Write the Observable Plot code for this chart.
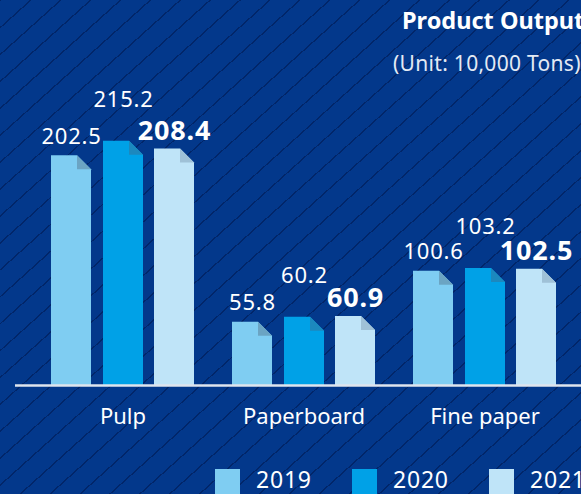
<!DOCTYPE html>
<html>
<head>
<meta charset="utf-8">
<script src="https://cdn.jsdelivr.net/npm/d3@7"></script>
<script src="https://cdn.jsdelivr.net/npm/@observablehq/plot@0.6"></script>
<style>
  html, body { margin: 0; padding: 0; }
  body {
    width: 581px; height: 494px; overflow: hidden;
    background: repeating-linear-gradient(138deg, rgba(0, 20, 72, 0.5) 0 1.3px, transparent 1.3px 20px), #03388b;
    font-family: "Noto Sans", sans-serif; color: #fff;
  }
  #wrap { position: relative; width: 581px; height: 494px; overflow: hidden; }
  #header { position: relative; height: 90px; }
  .title { position: absolute; left: 402px; top: 9px; font-size: 23.5px; font-weight: bold; line-height: 1; white-space: nowrap; }
  .unit { position: absolute; left: 393px; top: 53px; font-size: 21px; letter-spacing: 0.3px; line-height: 1; white-space: nowrap; color: #e4eaf4; }
  #chart svg { display: block; overflow: visible; }
  #chart g[aria-label="text"] text { letter-spacing: 0.8px; }
  #legend { position: absolute; left: 215px; top: 468px; display: flex; }
  .item { width: 137px; display: flex; align-items: flex-start; }
  .sw { width: 25px; height: 26px; margin-top: 1px; margin-right: 16px; }
  .lab { font-size: 23px; line-height: 1; letter-spacing: 0.8px; }
</style>
</head>
<body>
<div id="wrap">
  <div id="header">
    <div class="title">Product Output</div>
    <div class="unit">(Unit: 10,000 Tons)</div>
  </div>
  <div id="chart"></div>
  <div id="legend"></div>
</div>
<script>
// ---- data ----
const categories = ["Pulp", "Paperboard", "Fine paper"];
const years = ["2019", "2020", "2021"];
const values2019 = [202.5, 55.8, 100.6];
const values2020 = [215.2, 60.2, 103.2];
const values2021 = [208.4, 60.9, 102.5];

// ---- styles ----
const barColors = ["#7fcdf2", "#00a1e7", "#bfe4f8"];
const foldColors = ["#6ba4c3", "#1c88be", "#9fc1d7"];
const insets = [[19, 122], [71, 70], [122, 19]];
const labelDx = [-51.5, 0.5, 51.5];
const labelDy = [-12, -34, -9];
const labelSize = [22, 22, 27];
const labelWeight = ["normal", "normal", "bold"];

const seriesValues = [values2019, values2020, values2021];
const rows = years.flatMap((yr, i) =>
  categories.map((c, j) => ({ category: c, year: yr, value: seriesValues[i][j] }))
);

const marks = [];
years.forEach((yr, i) => {
  marks.push(Plot.barY(rows.filter(d => d.year === yr), {
    x: "category", y: "value", fill: barColors[i],
    insetLeft: insets[i][0], insetRight: insets[i][1]
  }));
});
marks.push(Plot.ruleY([0], { stroke: "#dfe5ee", strokeWidth: 2.5, insetLeft: -16, insetRight: -8 }));
years.forEach((yr, i) => {
  marks.push(Plot.text(rows.filter(d => d.year === yr), {
    x: "category", y: "value", text: d => d.value.toFixed(1),
    dx: labelDx[i], dy: labelDy[i], lineAnchor: "bottom", textAnchor: "middle",
    fill: "#ffffff", fontSize: labelSize[i], fontWeight: labelWeight[i]
  }));
});

const svg = Plot.plot({
  width: 581,
  height: 345,
  marginLeft: 31,
  marginRight: 6,
  marginTop: 0,
  marginBottom: 50,
  x: { domain: categories, padding: 0, label: null, tickSize: 0, tickPadding: 23 },
  y: { domain: [0, 260], axis: null },
  style: { background: "transparent", color: "#ffffff", fontSize: "22px", fontFamily: "Noto Sans, sans-serif" },
  marks
});

// folded top-right corner on each bar
const ns = "http://www.w3.org/2000/svg";
svg.querySelectorAll('g[aria-label="bar"]').forEach((g, gi) => {
  g.querySelectorAll("rect").forEach(r => {
    const x = +r.getAttribute("x"), y = +r.getAttribute("y");
    const w = +r.getAttribute("width"), h = +r.getAttribute("height");
    const c = Math.min(14, w, h);
    const body = document.createElementNS(ns, "path");
    body.setAttribute("d", `M${x},${y + h}V${y}H${x + w - c}L${x + w},${y + c}V${y + h}Z`);
    g.insertBefore(body, r);
    const fold = document.createElementNS(ns, "path");
    fold.setAttribute("d", `M${x + w - c},${y}V${y + c}H${x + w}Z`);
    fold.setAttribute("fill", foldColors[gi]);
    g.appendChild(fold);
    r.remove();
  });
});
document.getElementById("chart").appendChild(svg);

// legend
const legend = document.getElementById("legend");
years.forEach((yr, i) => {
  const item = document.createElement("div");
  item.className = "item";
  const sw = document.createElement("div");
  sw.className = "sw";
  sw.style.background = barColors[i];
  const lab = document.createElement("div");
  lab.className = "lab";
  lab.textContent = yr;
  item.appendChild(sw);
  item.appendChild(lab);
  legend.appendChild(item);
});
</script>
</body>
</html>
